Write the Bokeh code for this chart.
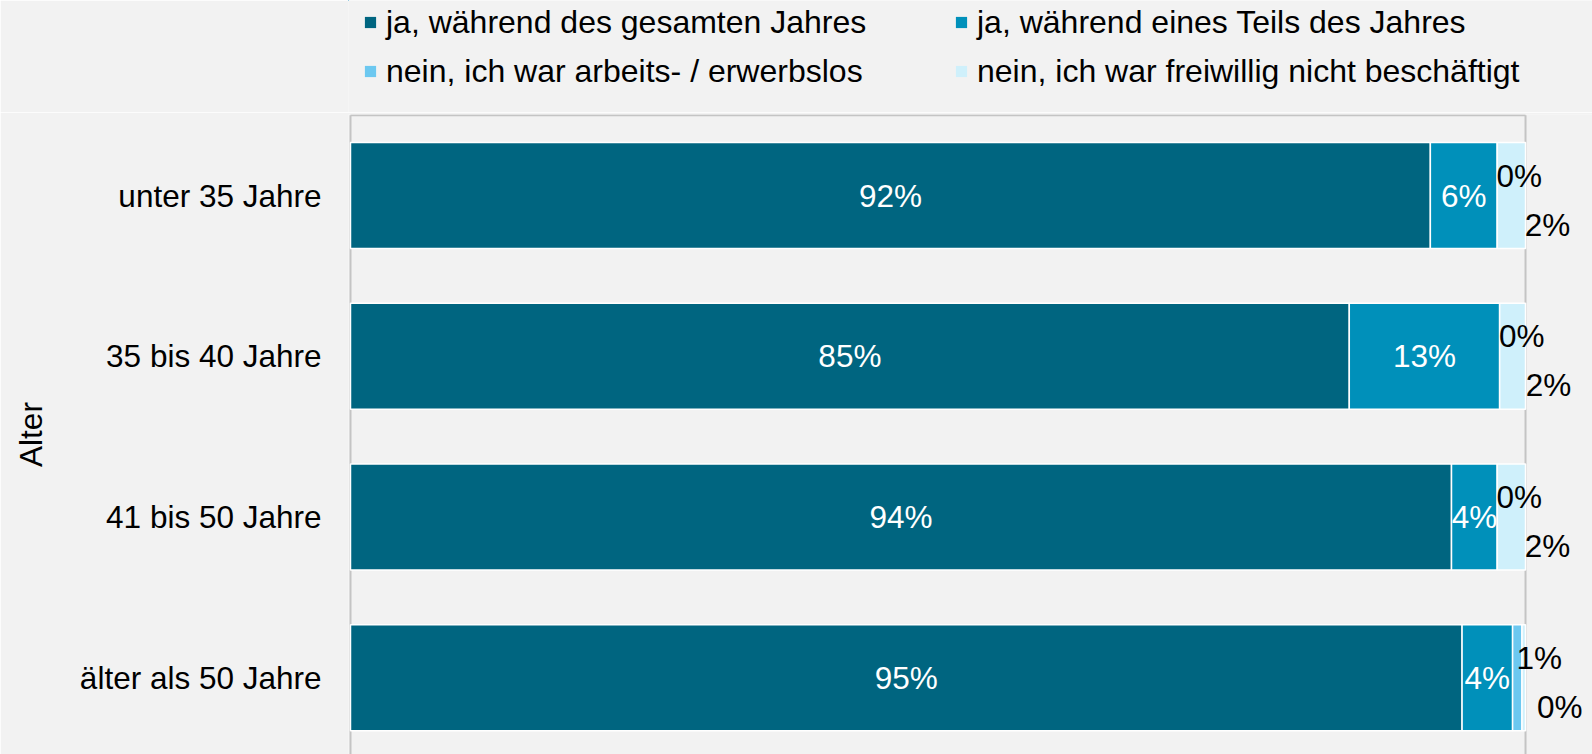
from bokeh.plotting import figure
from bokeh.layouts import column
from bokeh.models import ColumnDataSource, Legend, LegendItem, FixedTicker, Range1d
from bokeh.core.properties import value
from bokeh.embed import file_html
from bokeh.resources import INLINE

# ---- data ----
categories = ["unter 35 Jahre", "35 bis 40 Jahre", "41 bis 50 Jahre", "älter als 50 Jahre"]
series = [
    "ja, während des gesamten Jahres",
    "ja, während eines Teils des Jahres",
    "nein, ich war arbeits- / erwerbslos",
    "nein, ich war freiwillig nicht beschäftigt",
]
ganz_jahr = [91.9, 85.0, 93.7, 94.6]
teil_jahr = [5.7, 12.8, 3.9, 4.3]
arbeitslos = [0.0, 0.0, 0.0, 0.8]
freiwillig = [2.4, 2.2, 2.4, 0.3]
axis_title = "Alter"

colors = ["#006580", "#0090BA", "#6CC8F0", "#CFF0FB"]
BG = "#F2F2F2"
FONT = "Liberation Sans"
FS = "31.5px"
FRAME = "#C4C4C4"

values = [ganz_jahr, teil_jahr, arbeitslos, freiwillig]
keys = ["s0", "s1", "s2", "s3"]
pos = list(range(len(categories)))

data = {"pos": pos}
for k, v in zip(keys, values):
    data[k] = v
source = ColumnDataSource(data)

# ---------- legend strip (its bars lie outside its visible ranges; only the legend shows) ----------
lg = figure(width=1592, height=112, x_range=Range1d(1000, 1001), y_range=Range1d(-100, -99),
            output_backend="svg", toolbar_location=None,
            min_border_left=0, min_border_right=0, min_border_top=0, min_border_bottom=0,
            background_fill_color=BG, border_fill_color=BG, outline_line_color=None)
lg.axis.visible = False
lg.grid.visible = False
lg_renderers = lg.hbar_stack(keys, y="pos", height=0.653, color=colors, line_color=None,
                             source=source)
items = [LegendItem(label=s, renderers=[r]) for s, r in zip(series, lg_renderers)]
legend = Legend(items=items, location=(15, 22), orientation="horizontal", nrows=2,
                glyph_width=14, glyph_height=14, label_standoff=9, label_width=557,
                label_height=38, spacing=11, padding=0, margin=0,
                background_fill_alpha=0, border_line_color=None,
                label_text_font=FONT, label_text_font_size="32px", label_text_color="black")
lg.add_layout(legend, "center")

# ---------- main chart ----------
p = figure(
    width=1592, height=642,
    x_range=Range1d(-0.17, 105.70),
    y_range=Range1d(start=3.478, end=-0.5044),
    output_backend="svg", toolbar_location=None,
    min_border_left=348, min_border_right=0, min_border_top=2, min_border_bottom=0,
    background_fill_color=BG, border_fill_color=BG, outline_line_color=None,
)
p.xaxis.visible = False
p.xgrid.visible = False
p.ygrid.visible = False

# frame lines: left, right, top
p.segment(x0=[0, 100, 0], y0=[-0.5, -0.5, -0.5], x1=[0, 100, 100], y1=[3.478, 3.478, -0.5],
          line_color=FRAME, line_width=2, level="underlay")

renderers = p.hbar_stack(keys, y="pos", height=0.66, color=colors, line_color="white",
                         line_width=1.5, source=source)

# value labels
lx, ly, lt, lc, lxo, lyo = [], [], [], [], [], []
for i in pos:
    cum = 0.0
    for j, v in enumerate(values):
        val = v[i]
        lx.append(cum + val / 2)
        ly.append(i)
        lt.append(f"{round(val)}%")
        if val >= 3:
            lc.append("white"); lxo.append(0); lyo.append(0)
        elif j == 2:
            lc.append("black"); lxo.append(22); lyo.append(-20)
        else:
            lc.append("black"); lxo.append(36); lyo.append(29)
        cum += val
lsrc = ColumnDataSource(dict(x=lx, y=ly, t=lt, c=lc, xo=lxo, yo=lyo))
p.text(x="x", y="y", text="t", text_color="c", x_offset="xo", y_offset="yo", source=lsrc,
       text_align="center", text_baseline="middle", text_font=value(FONT), text_font_size=FS)

ax = p.yaxis[0]
ax.ticker = FixedTicker(ticks=pos)
ax.major_label_overrides = {i: c for i, c in zip(pos, categories)}
ax.axis_line_color = None
ax.major_tick_line_color = None
ax.minor_tick_line_color = None
ax.major_tick_out = 0
ax.major_tick_in = 0
ax.major_label_standoff = 27
ax.major_label_text_font = FONT
ax.major_label_text_font_size = FS
ax.major_label_text_color = "black"
ax.axis_label = axis_title
ax.axis_label_text_font = FONT
ax.axis_label_text_font_size = FS
ax.axis_label_text_font_style = "normal"
ax.axis_label_text_color = "black"
ax.axis_label_standoff = 28

layout = column(lg, p, spacing=0)

html = file_html(layout, INLINE)
html = html.replace("<body>", '<body style="background-color:#f2f2f2;">', 1)
open("out.html", "w").write(html)
